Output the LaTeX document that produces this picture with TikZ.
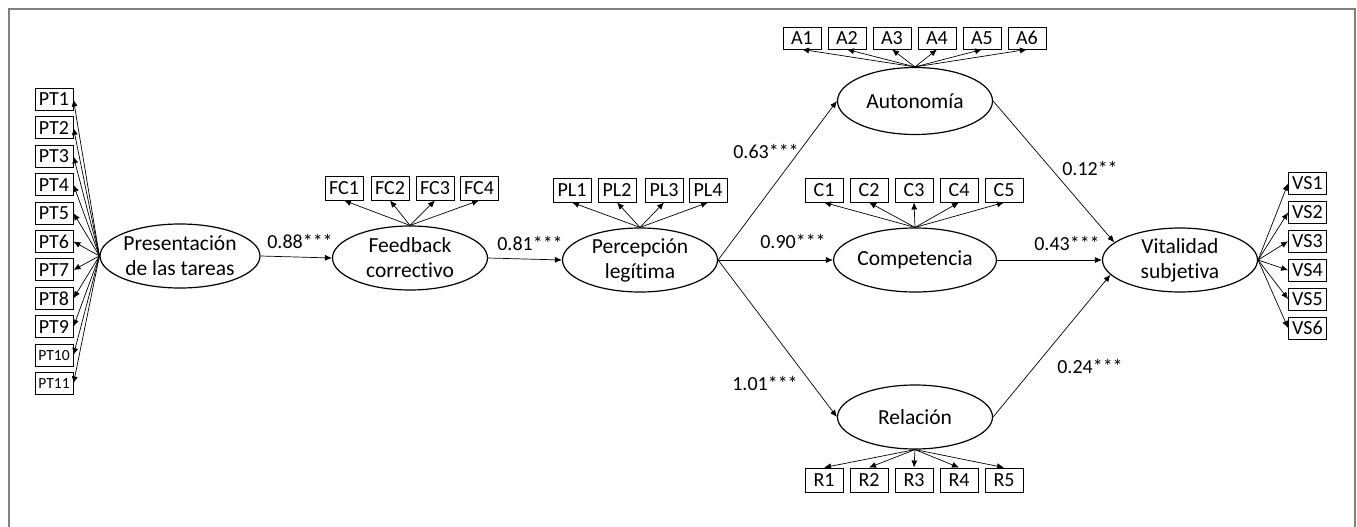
\documentclass[tikz,border=0pt]{standalone}
\usepackage{fontspec}
\setmainfont{Carlito}[Ligatures=NoCommon]
\usetikzlibrary{arrows.meta,shapes.geometric}
\begin{document}
\begin{tikzpicture}[x=1pt,y=-1pt,
  latent/.style={ellipse,draw,line width=1.2pt,minimum width=155pt,minimum height=64pt,inner sep=0pt,align=center,font=\fontsize{21.5}{25}\selectfont},
  ind/.style={draw,line width=0.9pt,minimum width=38pt,minimum height=22pt,inner sep=1pt,font=\fontsize{20}{22}\selectfont},
  small/.style={font=\fontsize{15.5}{18}\selectfont},
  arr/.style={line width=0.7pt,-{Latex[length=7pt,width=6pt]}},
  lab/.style={font=\fontsize{20}{24}\selectfont}]
\useasboundingbox (0,0) rectangle (1357,527);
\draw[line width=1.2pt,gray] (9,527) -- (9,9) -- (1355,9) -- (1355,527);

% latent variables
\node[latent] (pt) at (180,256) {Presentación\\de las tareas};
\node[latent] (fc) at (410,258) {Feedback\\correctivo};
\node[latent] (pl) at (640,260) {Percepción\\legítima};
\node[latent,minimum height=67pt] (au) at (915,101) {Autonomía};
\node[latent] (co) at (915,260) {Competencia};
\node[latent] (re) at (915,417) {Relación};
\node[latent] (vs) at (1180,260) {Vitalidad\\subjetiva};

% PT indicators
\foreach \i in {1,...,9}{
  \node[ind] (pt\i) at (54,{99.5+28.4*(\i-1)}) {PT\i};
  \draw[arr] (pt.west) -- (pt\i.east);
}
\foreach \i in {10,11}{
  \node[ind,small] (pt\i) at (54,{99.5+28.4*(\i-1)}) {PT\i};
  \draw[arr] (pt.west) -- (pt\i.east);
}

% FC indicators
\foreach \i/\x in {1/344,2/390,3/435,4/479}{
  \node[ind,minimum height=24pt] (fc\i) at (\x,188) {FC\i};
  \draw[arr] (fc.north) -- (fc\i.south);
}
% PL indicators
\foreach \i/\x in {1/572,2/617,3/664,4/708}{
  \node[ind,minimum height=24pt] (pl\i) at (\x,190) {PL\i};
  \draw[arr] (pl.north) -- (pl\i.south);
}
% A indicators
\foreach \i in {1,...,6}{
  \node[ind] (a\i) at ({802+45*(\i-1)},38) {A\i};
  \draw[arr] (au.north) -- (a\i.south);
}
% C indicators
\foreach \i in {1,...,5}{
  \node[ind,minimum height=24pt] (c\i) at ({824+45*(\i-1)},190) {C\i};
  \draw[arr] (co.north) -- (c\i.south);
}
% R indicators
\foreach \i in {1,...,5}{
  \node[ind,minimum height=24pt] (r\i) at ({824+45*(\i-1)},480) {R\i};
  \draw[arr] (re.south) -- (r\i.north);
}
% VS indicators
\foreach \i in {1,...,6}{
  \node[ind] (vs\i) at (1307.5,{183.5+28.9*(\i-1)}) {VS\i};
  \draw[arr] (vs.east) -- (vs\i.west);
}

% structural paths
\draw[arr] (pt.east) -- (fc.west);
\draw[arr] (fc.east) -- (pl.west);
\draw[arr] (pl.east) -- (au.west);
\draw[arr] (pl.east) -- (co.west);
\draw[arr] (pl.east) -- (re.west);
\draw[arr] (au.east) -- (vs.165);
\draw[arr] (co.east) -- (vs.west);
\draw[arr] (re.east) -- (vs.192);

% labels
\node[lab] (l1) at (300,241) {0.88***};
\node[lab] (l2) at (530,243) {0.81***};
\node[lab] (l3) at (766,151) {0.63***};
\node[lab] (l4) at (793,241) {0.90***};
\node[lab] (l5) at (765,383) {1.01***};
\node[lab] (l6) at (1090,168) {0.12**};
\node[lab] (l7) at (1067,243) {0.43***};
\node[lab] (l8) at (1090,366) {0.24***};
\end{tikzpicture}
\end{document}
